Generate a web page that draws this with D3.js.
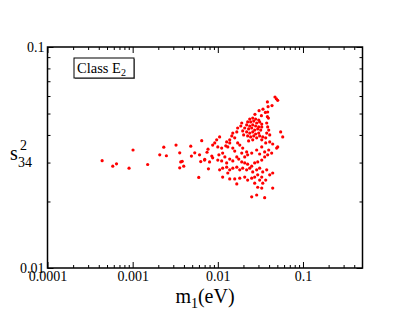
<!DOCTYPE html>
<html>
<head>
<meta charset="utf-8">
<script src="https://cdnjs.cloudflare.com/ajax/libs/d3/7.8.5/d3.min.js"></script>
<style>
  body { margin: 0; background: #fff; }
  svg text { font-family: "Liberation Serif", "Times New Roman", serif; fill: #000; }
  .tick line { stroke: #000; stroke-width: 1; }
  .dot { fill: #ff0000; }
</style>
</head>
<body>
<div id="main"></div>
<script>
// points, [m1 (eV), s34^2]
const leftPoints = [
  [0.000438, 0.0306], [0.000584, 0.0289], [0.000646, 0.0296], [0.000907, 0.0283],
  [0.00101, 0.0342], [0.0015, 0.0294], [0.00208, 0.0325], [0.00232, 0.0352],
  [0.00249, 0.0322], [0.00323, 0.0360], [0.00357, 0.0332], [0.00367, 0.0302],
  [0.00382, 0.0304], [0.00398, 0.0289], [0.00357, 0.0284], [0.00481, 0.0356],
  [0.0049, 0.0321], [0.00536, 0.0332], [0.00647, 0.0377], [0.0063, 0.0303],
  [0.00702, 0.0310], [0.00747, 0.0334], [0.00767, 0.0345], [0.00776, 0.0281],
  [0.00597, 0.0257]
];

const tailPoints = [
  [0.0469, 0.0594], [0.0487, 0.0583], [0.0505, 0.0574], [0.0382, 0.0564],
  [0.0433, 0.0543], [0.0389, 0.0537], [0.0339, 0.0523], [0.0305, 0.0515],
  [0.0362, 0.0506], [0.0385, 0.0508], [0.0273, 0.0496], [0.0325, 0.0489],
  [0.0382, 0.0484], [0.0393, 0.0477]
];

const corePoints = [
  [0.0237, 0.0472], [0.0257, 0.0477], [0.0278, 0.0472], [0.0302, 0.0467],
  [0.0224, 0.0458], [0.0243, 0.0458], [0.0264, 0.0462], [0.0286, 0.0453],
  [0.0310, 0.0458], [0.0328, 0.0448], [0.0218, 0.0444], [0.0237, 0.0439],
  [0.0257, 0.0444], [0.0278, 0.0439], [0.0302, 0.0435], [0.0230, 0.0426],
  [0.0250, 0.0430], [0.0271, 0.0421], [0.0294, 0.0426], [0.0319, 0.0421],
  [0.0218, 0.0413], [0.0237, 0.0408], [0.0257, 0.0413], [0.0278, 0.0404],
  [0.0302, 0.0408], [0.0224, 0.0396], [0.0243, 0.0392], [0.0264, 0.0396],
  [0.0286, 0.0388], [0.0207, 0.0430], [0.0196, 0.0417], [0.0201, 0.0400],
  [0.0310, 0.0396], [0.0328, 0.0435], [0.0257, 0.0380], [0.0230, 0.0376]
];

const rightPoints = [
  [0.0375, 0.0453], [0.0385, 0.0435], [0.0396, 0.0421], [0.0375, 0.0408],
  [0.0407, 0.0400], [0.0365, 0.0388], [0.0547, 0.0413], [0.0578, 0.0392],
  [0.0505, 0.0353], [0.0491, 0.0349], [0.0337, 0.0392], [0.0328, 0.0380],
  [0.0365, 0.0368]
];

const midPoints = [
  [0.0191, 0.0453], [0.0171, 0.0430], [0.0150, 0.0408], [0.0146, 0.0396],
  [0.0167, 0.0413], [0.0186, 0.0439], [0.0158, 0.0388], [0.0138, 0.0380],
  [0.0127, 0.0372], [0.0105, 0.0392], [0.0097, 0.0380], [0.0092, 0.0368],
  [0.0087, 0.0360], [0.0100, 0.0353], [0.0111, 0.0349], [0.0124, 0.0357],
  [0.0138, 0.0368], [0.0131, 0.0353], [0.0150, 0.0349], [0.0158, 0.0338],
  [0.0181, 0.0360], [0.0171, 0.0368], [0.0196, 0.0349], [0.0218, 0.0335],
  [0.0114, 0.0331], [0.0103, 0.0325], [0.0085, 0.0321], [0.0061, 0.0325],
  [0.0191, 0.0331], [0.0207, 0.0318], [0.0224, 0.0325], [0.0250, 0.0331],
  [0.0286, 0.0342], [0.0328, 0.0353], [0.0407, 0.0372], [0.0441, 0.0364],
  [0.0396, 0.0342], [0.0355, 0.0335], [0.0310, 0.0328]
];

const lowPoints = [
  [0.0070, 0.0308], [0.0080, 0.0302], [0.0087, 0.0315], [0.0100, 0.0308],
  [0.0111, 0.0305], [0.0121, 0.0318], [0.0127, 0.0299], [0.0138, 0.0311],
  [0.0150, 0.0305], [0.0167, 0.0318], [0.0176, 0.0311], [0.0191, 0.0302],
  [0.0207, 0.0299], [0.0224, 0.0295], [0.0250, 0.0289], [0.0271, 0.0299],
  [0.0294, 0.0302], [0.0328, 0.0308], [0.0355, 0.0318], [0.0385, 0.0325],
  [0.0429, 0.0331],
  [0.0114, 0.0283], [0.0127, 0.0286], [0.0138, 0.0278], [0.0150, 0.0283],
  [0.0167, 0.0286], [0.0181, 0.0278], [0.0196, 0.0283], [0.0218, 0.0278],
  [0.0237, 0.0283], [0.0257, 0.0272], [0.0286, 0.0278], [0.0310, 0.0283],
  [0.0337, 0.0272], [0.0375, 0.0278], [0.0105, 0.0278], [0.0131, 0.0269],
  [0.0114, 0.0258], [0.0138, 0.0253], [0.0158, 0.0253], [0.0181, 0.0255],
  [0.0207, 0.0258], [0.0224, 0.0250], [0.0250, 0.0255], [0.0271, 0.0258],
  [0.0294, 0.0264], [0.0328, 0.0258], [0.0365, 0.0250], [0.0407, 0.0264],
  [0.0441, 0.0269], [0.0310, 0.0250],
  [0.0167, 0.0240], [0.0328, 0.0230], [0.0441, 0.0230], [0.0250, 0.0210],
  [0.0286, 0.0214], [0.0355, 0.0208], [0.0294, 0.0232], [0.0271, 0.0242],
  [0.0337, 0.0242]
];

const xMajor = [0.0001, 0.001, 0.01, 0.1];
const xLabels = ["0.0001", "0.001", "0.01", "0.1"];
const yMajor = [0.01, 0.1];
const yLabels = ["0.01", "0.1"];

var W = 409, H = 316;
var plot = { left: 47.5, right: 362.5, top: 47, bottom: 268 };

var svg = d3.select("#main").append("svg")
  .attr("width", W)
  .attr("height", H);

var x = d3.scaleLog().domain([0.0001, 0.5]).range([plot.left, plot.right]);
var y = d3.scaleLog().domain([0.01, 0.1]).range([plot.bottom, plot.top]);

// minor ticks 2..9 per decade, kept inside the domain
function minors(scale) {
  var d = scale.domain(), out = [];
  for (var e = Math.floor(Math.log10(d[0])); e <= Math.ceil(Math.log10(d[1])); e++) {
    for (var k = 2; k <= 9; k++) {
      var v = k * Math.pow(10, e);
      if (v > d[0] && v < d[1]) out.push(v);
    }
  }
  return out;
}

function addAxis(axisFn, scale, major, labels, transform, showLabels) {
  var g = svg.append("g").attr("transform", transform);
  g.call(axisFn(scale).tickValues(minors(scale)).tickSize(-3).tickFormat(""));
  var g2 = svg.append("g").attr("transform", transform);
  g2.call(axisFn(scale).tickValues(major).tickSize(-6).tickPadding(axisFn === d3.axisLeft ? 3 : 3)
    .tickFormat(function(d, i) { return showLabels ? labels[i] : ""; }));
  g.select(".domain").remove();
  g2.select(".domain").remove();
  g2.selectAll("text").style("font-size", "14px");
  return g2;
}

addAxis(d3.axisBottom, x, xMajor, xLabels, "translate(0," + plot.bottom + ")", true);
addAxis(d3.axisTop, x, xMajor, xLabels, "translate(0," + plot.top + ")", false);
addAxis(d3.axisLeft, y, yMajor, yLabels, "translate(" + plot.left + ",0)", true);
addAxis(d3.axisRight, y, yMajor, yLabels, "translate(" + plot.right + ",0)", false);

// frame
svg.append("rect")
  .attr("x", plot.left)
  .attr("y", plot.top)
  .attr("width", plot.right - plot.left)
  .attr("height", plot.bottom - plot.top)
  .attr("fill", "none")
  .attr("stroke", "#000")
  .attr("stroke-width", 1.5);

// points
var allPoints = [].concat(leftPoints, tailPoints, corePoints, rightPoints, midPoints, lowPoints);
svg.append("g").selectAll(".dot")
  .data(allPoints)
  .enter().append("circle")
  .attr("class", "dot")
  .attr("cx", (d) => x(d[0]))
  .attr("cy", (d) => y(d[1]))
  .attr("r", 1.6);

// legend box
var lg = svg.append("g").attr("transform", "translate(74,58)");
lg.append("rect")
  .attr("x", 1).attr("y", 1).attr("width", 60).attr("height", 20)
  .attr("fill", "#888");
lg.append("rect")
  .attr("width", 60).attr("height", 20)
  .attr("fill", "#fff").attr("stroke", "#000").attr("stroke-width", 1);
var lt = lg.append("text").attr("x", 3).attr("y", 15).style("font-size", "14.5px");
lt.append("tspan").text("Class E");
lt.append("tspan").attr("dy", 3).style("font-size", "10px").text("2");

// x title
var xt = svg.append("text")
  .attr("x", 205).attr("y", 303)
  .attr("text-anchor", "middle")
  .style("font-size", "20px");
xt.append("tspan").text("m");
xt.append("tspan").attr("dy", 5).style("font-size", "14px").text("1");
xt.append("tspan").attr("dy", -5).text("(eV)");

// y title
var yt = svg.append("g");
yt.append("text").attr("x", 10).attr("y", 160).style("font-size", "20px").text("s");
yt.append("text").attr("x", 20).attr("y", 150).style("font-size", "14px").text("2");
yt.append("text").attr("x", 18).attr("y", 167).style("font-size", "14px").text("34");
</script>
</body>
</html>
